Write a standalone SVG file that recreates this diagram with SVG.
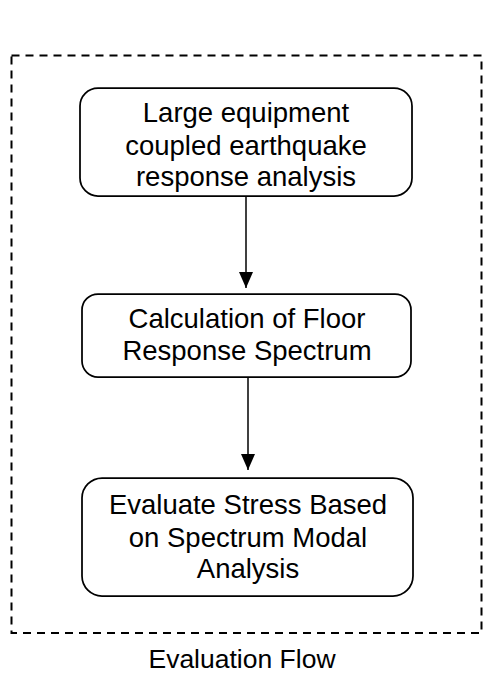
<svg xmlns="http://www.w3.org/2000/svg" width="483" height="675" viewBox="0 0 483 675">
<style>
.box{fill:#fff;stroke:#000;stroke-width:1.75}
.t{font-family:"Liberation Sans",Arial,sans-serif;font-size:27.5px;fill:#000;text-anchor:middle}
.frame{fill:none;stroke:#000;stroke-width:2;stroke-dasharray:8,6}
.conn{stroke:#000;stroke-width:1.5;fill:none}
</style>
<defs>
<marker id="ah" markerWidth="16" markerHeight="14" refX="16" refY="7" orient="auto" markerUnits="userSpaceOnUse" viewBox="0 0 16 14">
<path d="M0,0 L16,7 L0,14 Z" fill="#000"/>
</marker>
</defs>
<rect class="frame" x="11.5" y="55.5" width="470" height="577.5"/>
<g id="connectors">
<line class="conn" x1="246" y1="196" x2="246" y2="288" marker-end="url(#ah)"/>
<line class="conn" x1="248" y1="377" x2="248" y2="470" marker-end="url(#ah)"/>
</g>
<g id="node1">
<rect class="box" x="80" y="88" width="332" height="108" rx="18"/>
<text class="t" x="246" y="122">Large equipment</text>
<text class="t" x="246" y="155">coupled earthquake</text>
<text class="t" x="246" y="186">response analysis</text>
</g>
<g id="node2">
<rect class="box" x="82" y="294" width="329" height="83" rx="16"/>
<text class="t" x="247" y="328">Calculation of Floor</text>
<text class="t" x="247" y="360">Response Spectrum</text>
</g>
<g id="node3">
<rect class="box" x="82" y="478" width="331" height="118" rx="20"/>
<text class="t" x="248" y="514">Evaluate Stress Based</text>
<text class="t" x="248" y="547">on Spectrum Modal</text>
<text class="t" x="248" y="578">Analysis</text>
</g>
<text class="t" x="242" y="668" style="font-size:26.5px">Evaluation Flow</text>
</svg>
